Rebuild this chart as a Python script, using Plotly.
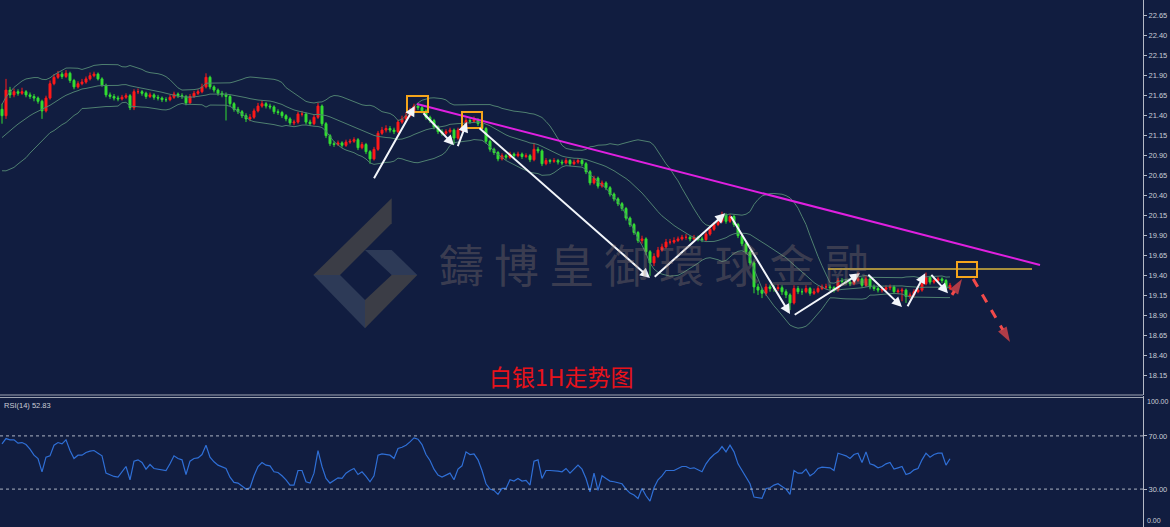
import plotly.graph_objects as go
import pandas as pd

# ---------------- data ----------------
first_open = 21.48
prior_closes = [20.80, 20.84, 20.88, 20.86, 20.94, 20.98, 20.96, 21.04, 21.08, 21.06,
                21.14, 21.18, 21.24, 21.22, 21.30, 21.36, 21.34, 21.42, 21.48]

closes = [
    21.40, 21.72, 21.66, 21.70, 21.68, 21.70, 21.66, 21.64, 21.62, 21.58,
    21.46, 21.62, 21.80, 21.88, 21.92, 21.89, 21.93, 21.84, 21.76, 21.80,
    21.82, 21.86, 21.90, 21.92, 21.86, 21.78, 21.66, 21.64, 21.62, 21.61,
    21.63, 21.65, 21.50, 21.70, 21.70, 21.68, 21.64, 21.66, 21.63, 21.62,
    21.60, 21.60, 21.63, 21.67, 21.65, 21.64, 21.56, 21.64, 21.68, 21.70,
    21.76, 21.88, 21.76, 21.72, 21.68, 21.66, 21.64, 21.55, 21.48, 21.45,
    21.40, 21.36, 21.38, 21.46, 21.52, 21.55, 21.52, 21.51, 21.45, 21.44,
    21.40, 21.36, 21.31, 21.32, 21.42, 21.42, 21.32, 21.30, 21.38, 21.52,
    21.30, 21.15, 21.05, 21.04, 21.06, 21.03, 21.07, 21.08, 21.10, 21.00,
    21.04, 20.95, 20.86, 20.98, 21.18, 21.22, 21.24, 21.22, 21.20, 21.32,
    21.36, 21.40, 21.46, 21.52, 21.50, 21.46, 21.38, 21.34, 21.26, 21.20,
    21.18, 21.20, 21.22, 21.12, 21.22, 21.26, 21.34, 21.33, 21.35, 21.30,
    21.24, 21.08, 20.98, 20.94, 20.86, 20.90, 20.88, 20.92, 20.90, 20.92,
    20.89, 20.90, 20.85, 20.98, 20.96, 20.80, 20.84, 20.83, 20.84, 20.82,
    20.81, 20.84, 20.80, 20.82, 20.84, 20.80, 20.70, 20.56, 20.62, 20.52,
    20.56, 20.50, 20.42, 20.36, 20.30, 20.24, 20.12, 20.04, 19.94, 19.84,
    19.86, 19.70, 19.56, 19.64, 19.72, 19.76, 19.82, 19.82, 19.84, 19.86,
    19.88, 19.88, 19.86, 19.88, 19.86, 19.85, 19.92, 19.98, 20.04, 20.08,
    20.16, 20.08, 20.14, 20.04, 19.90, 19.80, 19.70, 19.56, 19.26, 19.22,
    19.18, 19.26, 19.24, 19.24, 19.25, 19.20, 19.16, 19.06, 19.24, 19.20,
    19.20, 19.24, 19.18, 19.20, 19.24, 19.26, 19.26, 19.25, 19.22, 19.34,
    19.33, 19.32, 19.30, 19.34, 19.36, 19.28, 19.36, 19.26, 19.24, 19.22,
    19.23, 19.25, 19.26, 19.20, 19.21, 19.22, 19.14, 19.16, 19.20, 19.22,
    19.30, 19.38, 19.32, 19.34, 19.36, 19.34, 19.24, 19.28,
]

highs = [
    21.55, 21.86, 21.76, 21.74, 21.73, 21.75, 21.72, 21.69, 21.67, 21.64,
    21.60, 21.65, 21.84, 21.92, 21.96, 21.95, 21.97, 21.95, 21.86, 21.83,
    21.86, 21.89, 21.94, 21.95, 21.94, 21.88, 21.80, 21.69, 21.67, 21.65,
    21.66, 21.68, 21.67, 21.73, 21.74, 21.72, 21.70, 21.69, 21.68, 21.66,
    21.64, 21.63, 21.66, 21.70, 21.69, 21.68, 21.66, 21.67, 21.71, 21.73,
    21.80, 21.93, 21.90, 21.78, 21.74, 21.71, 21.69, 21.66, 21.57, 21.51,
    21.47, 21.43, 21.42, 21.49, 21.56, 21.59, 21.57, 21.55, 21.53, 21.48,
    21.46, 21.42, 21.38, 21.35, 21.45, 21.46, 21.44, 21.35, 21.41, 21.56,
    21.54, 21.32, 21.17, 21.08, 21.09, 21.08, 21.10, 21.11, 21.13, 21.12,
    21.07, 21.06, 20.97, 21.01, 21.21, 21.26, 21.28, 21.27, 21.25, 21.35,
    21.40, 21.44, 21.50, 21.55, 21.55, 21.52, 21.48, 21.40, 21.36, 21.28,
    21.23, 21.23, 21.25, 21.24, 21.25, 21.30, 21.37, 21.37, 21.39, 21.37,
    21.32, 21.26, 21.10, 21.00, 20.96, 20.93, 20.92, 20.95, 20.94, 20.95,
    20.94, 20.93, 20.92, 21.06, 21.01, 20.98, 20.87, 20.86, 20.87, 20.86,
    20.85, 20.87, 20.86, 20.85, 20.87, 20.86, 20.82, 20.72, 20.65, 20.64,
    20.59, 20.58, 20.52, 20.44, 20.38, 20.32, 20.26, 20.14, 20.06, 19.96,
    19.90, 19.88, 19.72, 19.68, 19.76, 19.80, 19.86, 19.86, 19.88, 19.89,
    19.91, 19.92, 19.90, 19.91, 19.90, 19.89, 19.95, 20.01, 20.07, 20.11,
    20.20, 20.18, 20.17, 20.16, 20.06, 19.92, 19.82, 19.72, 19.58, 19.30,
    19.25, 19.30, 19.29, 19.28, 19.29, 19.28, 19.23, 19.18, 19.28, 19.27,
    19.24, 19.28, 19.26, 19.24, 19.27, 19.29, 19.30, 19.29, 19.27, 19.37,
    19.37, 19.36, 19.34, 19.38, 19.44, 19.38, 19.40, 19.38, 19.29, 19.27,
    19.26, 19.28, 19.29, 19.28, 19.24, 19.25, 19.24, 19.19, 19.23, 19.26,
    19.34, 19.44, 19.40, 19.37, 19.39, 19.38, 19.36, 19.31,
]

lows = [
    21.30, 21.36, 21.62, 21.63, 21.65, 21.66, 21.63, 21.61, 21.58, 21.55,
    21.36, 21.44, 21.60, 21.78, 21.86, 21.86, 21.87, 21.81, 21.73, 21.74,
    21.78, 21.80, 21.84, 21.88, 21.84, 21.76, 21.63, 21.61, 21.59, 21.58,
    21.59, 21.61, 21.47, 21.47, 21.67, 21.65, 21.61, 21.62, 21.60, 21.59,
    21.57, 21.57, 21.58, 21.61, 21.62, 21.61, 21.53, 21.55, 21.62, 21.66,
    21.68, 21.74, 21.73, 21.69, 21.65, 21.63, 21.34, 21.52, 21.45, 21.42,
    21.37, 21.32, 21.33, 21.36, 21.44, 21.50, 21.49, 21.48, 21.42, 21.41,
    21.37, 21.33, 21.28, 21.28, 21.30, 21.39, 21.29, 21.27, 21.28, 21.36,
    21.27, 21.12, 21.02, 21.01, 21.02, 21.00, 21.01, 21.05, 21.06, 20.97,
    20.98, 20.92, 20.80, 20.84, 20.96, 21.16, 21.19, 21.19, 21.17, 21.18,
    21.30, 21.34, 21.38, 21.44, 21.47, 21.43, 21.35, 21.31, 21.23, 21.17,
    21.15, 21.16, 21.18, 21.04, 21.10, 21.20, 21.24, 21.30, 21.31, 21.27,
    21.21, 21.05, 20.95, 20.91, 20.83, 20.84, 20.85, 20.86, 20.87, 20.88,
    20.86, 20.87, 20.82, 20.83, 20.93, 20.77, 20.78, 20.80, 20.81, 20.79,
    20.78, 20.79, 20.77, 20.78, 20.80, 20.77, 20.67, 20.53, 20.54, 20.49,
    20.50, 20.47, 20.39, 20.33, 20.27, 20.21, 20.09, 20.01, 19.91, 19.81,
    19.80, 19.66, 19.40, 19.52, 19.62, 19.70, 19.74, 19.79, 19.80, 19.82,
    19.84, 19.85, 19.83, 19.84, 19.83, 19.82, 19.83, 19.90, 19.96, 20.02,
    20.06, 20.05, 20.06, 20.01, 19.87, 19.77, 19.67, 19.53, 19.18, 19.16,
    19.12, 19.15, 19.20, 19.20, 19.21, 19.16, 19.12, 18.97, 19.04, 19.17,
    19.16, 19.18, 19.15, 19.16, 19.18, 19.22, 19.23, 19.22, 19.19, 19.20,
    19.30, 19.29, 19.27, 19.28, 19.32, 19.25, 19.26, 19.23, 19.21, 19.19,
    19.19, 19.21, 19.22, 19.17, 19.17, 19.08, 19.06, 19.11, 19.13, 19.18,
    19.20, 19.28, 19.29, 19.30, 19.32, 19.31, 19.21, 19.22,
]

rsi = [
    64, 68, 67, 67, 64.5, 65, 63.5, 60, 55.5, 53,
    43, 54, 55, 63, 65, 64, 67, 59, 53, 55.5,
    55.5, 57.5, 58.5, 59, 57, 55, 42, 40.5, 39.5, 39,
    43, 47, 37, 51, 52, 50, 45, 48.5, 45.5, 45,
    44, 44, 49, 55, 53, 52, 41, 51, 53, 53.5,
    56, 63, 54, 50.5, 48, 46.5, 45.5, 39, 35, 34.5,
    32, 30, 31, 40, 47, 50, 48, 47.5, 43, 42.5,
    40, 37, 33, 33, 44, 44, 35.5, 34.5, 42, 59,
    47, 38, 34.5, 36.5, 38.5, 38, 42, 44, 45.5, 41,
    43, 39.5, 35.5, 40, 55.5, 56.5, 56, 55.5, 53, 60.5,
    61.5, 63, 65.5, 68.5, 67.5, 63.5, 56, 51.5, 45, 40.5,
    39, 40.5, 42, 37, 45, 47.5, 58, 56, 56.5, 52,
    44, 34, 30, 29, 26, 30.5, 30.5, 37, 36, 38,
    36, 36.5, 33, 51, 52, 38, 44, 44, 44, 43.5,
    43, 45.5, 42, 45, 48, 45, 38, 28, 42, 29,
    40, 38, 36, 35.5, 35, 34, 30, 27, 25.5, 23,
    30.5, 25, 21, 31, 37, 40, 44, 44, 44, 45.5,
    47, 47, 45.5, 46, 44.5, 43, 49, 53, 56, 58,
    62, 58, 63, 58, 49, 44, 40, 34, 24, 23.5,
    23, 30.5, 31, 33, 34, 32, 30, 26, 44, 42,
    42, 45, 40, 42, 45.5, 46.5, 46.5, 46, 44, 57,
    56, 55, 53, 56, 57, 50, 58, 49, 48, 46,
    47, 49, 50, 45, 46, 47, 41, 42, 44.5, 45.5,
    52, 57, 54, 56, 57, 57, 48, 52.83,
]

price_ticks = [18.15, 18.40, 18.65, 18.90, 19.15, 19.40, 19.65, 19.90, 20.15, 20.40,
               20.65, 20.90, 21.15, 21.40, 21.65, 21.90, 22.15, 22.40, 22.65]
rsi_ticks = [30, 70]
rsi_edge_labels = ["100.00", "0.00"]
rsi_label = "RSI(14) 52.83"
title_text = "白银1H走势图"
watermark_text = "鑄 博 皇 御 環 球 金 融"

# hand-drawn analysis objects (bar index, price)
zz_x0 = [92.8, 105.0, 113.8, 119.0, 162.8, 182.0, 197.8, 216.2, 226.2, 232.0]
zz_y0 = [20.60, 21.45, 21.00, 21.26, 19.37, 20.16, 18.90, 19.43, 19.00, 19.43]
zz_x1 = [103.2, 113.0, 116.2, 162.0, 180.8, 197.0, 214.5, 225.0, 230.8, 236.5]
zz_y1 = [21.52, 21.03, 21.32, 19.37, 20.18, 18.92, 19.43, 19.01, 19.43, 19.18]
fc_x = [[237.5, 240.0], [242.8, 252.0]]
fc_y = [[19.16, 19.36], [19.36, 18.57]]
trend_x = [103.75, 259.5]
trend_y = [21.546, 19.534]
level_x = [206.5, 257.5]
level_y = [19.484, 19.484]
box_x0 = [101.25, 115.0, 238.75]
box_x1 = [106.5, 120.0, 243.75]
box_y0 = [21.446, 21.246, 19.384]
box_y1 = [21.646, 21.446, 19.571]

# ---------------- derived ----------------
n = len(closes)
assert len(highs) == n and len(lows) == n and len(rsi) == n, (len(closes), len(highs), len(lows), len(rsi))
idx = list(range(n))
opens = [first_open] + closes[:-1]
s = pd.Series(prior_closes + closes)
mid = s.rolling(20).mean().iloc[-n:].tolist()
sd = s.rolling(20).std(ddof=0).iloc[-n:].tolist()
upper = [m + 2 * d for m, d in zip(mid, sd)]
lower = [m - 2 * d for m, d in zip(mid, sd)]

BG = "#111d40"
AX = "#b4b9c6"
TXT = "#c9cdd6"
W, H, R = 1170, 527, 27
PW = W - R

def px(x):
    return x / PW

def py(y):
    return 1 - y / H

fig = go.Figure()

band_col = "#4f8070"
for band in (upper, mid, lower):
    fig.add_trace(go.Scatter(x=idx, y=band, mode="lines",
                             line=dict(color=band_col, width=1), hoverinfo="skip",
                             xaxis="x", yaxis="y"))

fig.add_trace(go.Candlestick(
    x=idx, open=opens, high=highs, low=lows, close=closes,
    increasing=dict(line=dict(color="#ff1a1a", width=1), fillcolor="#ff1a1a"),
    decreasing=dict(line=dict(color="#33dd33", width=1), fillcolor="#33dd33"),
    whiskerwidth=0, xaxis="x", yaxis="y"))

fig.add_trace(go.Scatter(x=trend_x, y=trend_y, mode="lines",
                         line=dict(color="#e020e0", width=2), xaxis="x", yaxis="y"))
fig.add_trace(go.Scatter(x=level_x, y=level_y, mode="lines",
                         line=dict(color="#d9b43c", width=1.5), xaxis="x", yaxis="y"))

for fx, fy in zip(fc_x, fc_y):
    fig.add_trace(go.Scatter(x=fx, y=fy, mode="lines+markers",
                             line=dict(color="#f24a4a", width=3, dash="dash"),
                             marker=dict(symbol=["circle", "arrow"], size=[0, 16],
                                         color="#f24a4a", angleref="previous",
                                         line=dict(width=0)),
                             xaxis="x", yaxis="y"))

fig.add_trace(go.Scatter(x=idx, y=rsi, mode="lines",
                         line=dict(color="#2f6fd6", width=1.2), xaxis="x", yaxis="y2"))

shapes = []
for x0, x1, y0, y1 in zip(box_x0, box_x1, box_y0, box_y1):
    shapes.append(dict(type="rect", xref="x", yref="y", x0=x0, x1=x1, y0=y0, y1=y1,
                       line=dict(color="#f5a51c", width=2), fillcolor="rgba(0,0,0,0)"))
for lv in rsi_ticks:
    shapes.append(dict(type="line", xref="paper", yref="y2", x0=0, x1=1, y0=lv, y1=lv,
                       line=dict(color="#aeb4c2", width=1, dash="dot")))
for yy in (395.0, 397.5):
    shapes.append(dict(type="line", xref="paper", yref="paper", x0=0, x1=1,
                       y0=py(yy), y1=py(yy), line=dict(color="#9ea4b2", width=1)))

# watermark logo
logo = [
    ([(391.7, 198.3), (391.7, 223.3), (340, 275), (313.3, 275)], "#3b3d46"),
    ([(313.3, 275), (340, 275), (365, 300), (365, 328.3)], "#2d3a57"),
    ([(365, 328.3), (365, 300), (391.7, 275), (417.3, 275)], "#3b3d46"),
    ([(365, 250), (391.7, 250), (417.3, 275), (391.7, 275)], "#2d3a57"),
]
for pts, col in logo:
    path = "M " + " L ".join(f"{px(a):.5f},{py(b):.5f}" for a, b in pts) + " Z"
    shapes.append(dict(type="path", xref="paper", yref="paper", path=path,
                       fillcolor=col, line=dict(width=0), layer="below"))

annotations = []
for x0, y0, x1, y1 in zip(zz_x0, zz_y0, zz_x1, zz_y1):
    annotations.append(dict(x=x1, y=y1, ax=x0, ay=y0, xref="x", yref="y",
                            axref="x", ayref="y", text="", showarrow=True,
                            arrowhead=2, arrowsize=1, arrowwidth=2,
                            arrowcolor="#f2f5fa", standoff=0))

annotations.append(dict(text=watermark_text, xref="paper", yref="paper",
                        x=px(437), y=py(263), xanchor="left", yanchor="middle",
                        showarrow=False,
                        font=dict(family="Noto Sans CJK TC", size=45,
                                  color="rgba(150,130,118,0.33)")))
annotations.append(dict(text=title_text, xref="paper", yref="paper",
                        x=px(561), y=py(376), xanchor="center", yanchor="middle",
                        showarrow=False,
                        font=dict(family="Noto Sans CJK SC", size=23, color="#e8121a")))
annotations.append(dict(text=rsi_label, xref="paper", yref="paper",
                        x=px(2), y=py(398.5), xanchor="left", yanchor="top",
                        showarrow=False,
                        font=dict(family="Liberation Sans", size=7.5, color=TXT)))
annotations.append(dict(text=rsi_edge_labels[0], xref="paper", yref="paper",
                        x=1, y=py(401), xanchor="left", yanchor="middle", xshift=2,
                        showarrow=False,
                        font=dict(family="Liberation Sans", size=7, color=TXT)))
annotations.append(dict(text=rsi_edge_labels[1], xref="paper", yref="paper",
                        x=1, y=py(520), xanchor="left", yanchor="middle", xshift=2,
                        showarrow=False,
                        font=dict(family="Liberation Sans", size=7, color=TXT)))

axis_common = dict(side="right", showgrid=False, zeroline=False, showline=True,
                   linecolor=AX, linewidth=1, ticks="outside", ticklen=3, tickcolor=AX,
                   tickfont=dict(family="Liberation Sans", size=7.5, color=TXT),
                   anchor="x", fixedrange=True)

fig.update_layout(
    width=W, height=H, margin=dict(l=0, r=R, t=0, b=0),
    paper_bgcolor=BG, plot_bgcolor=BG, showlegend=False,
    xaxis=dict(range=[-0.5, (PW / 4.0) - 0.5], visible=False,
               rangeslider=dict(visible=False), anchor="y2", fixedrange=True),
    yaxis=dict(domain=[py(395), 1], range=[17.909, 22.846],
               tickvals=price_ticks, ticktext=[f"{v:.2f}" for v in price_ticks],
               **axis_common),
    yaxis2=dict(domain=[0, py(396)], range=[1.5, 100],
                tickvals=rsi_ticks, ticktext=[f"{v:.2f}" for v in rsi_ticks],
                **axis_common),
    shapes=shapes, annotations=annotations,
)

fig.write_html("out.html")
